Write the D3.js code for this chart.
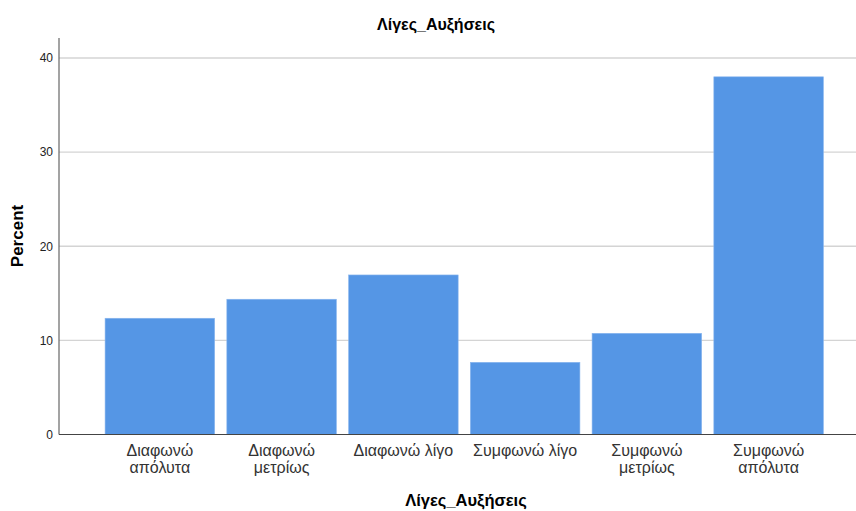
<!DOCTYPE html>
<html>
<head>
<meta charset="utf-8">
<script src="https://cdn.jsdelivr.net/npm/d3@7"></script>
<style>
  body { margin: 0; background: #fff; }
  svg text { font-family: "Liberation Sans", Arial, sans-serif; }
</style>
</head>
<body>
<div id="chart"></div>
<script>
// data
const categories = [
  ["Διαφωνώ", "απόλυτα"],
  ["Διαφωνώ", "μετρίως"],
  ["Διαφωνώ λίγο"],
  ["Συμφωνώ λίγο"],
  ["Συμφωνώ", "μετρίως"],
  ["Συμφωνώ", "απόλυτα"]
];
const percents = [12.35, 14.37, 16.95, 7.67, 10.75, 38.0];
const yTicks = [0, 10, 20, 30, 40];

const width = 856, height = 511;
const axisLeft = 59, axisRight = 856, yTop = 38, yBottom = 434.5;

const svg = d3.select("#chart").append("svg")
    .attr("width", width)
    .attr("height", height);

const keys = categories.map(function(d) { return d.join(" "); });

const x = d3.scaleBand()
    .domain(keys)
    .range([99, 829.5])
    .paddingInner(0.1)
    .paddingOuter(0.05);

const y = d3.scaleLinear()
    .domain([0, 40])
    .range([yBottom, 58]);

// grid lines
svg.append("g")
    .selectAll("line")
    .data(yTicks.filter(function(d) { return d > 0; }))
    .enter()
    .append("line")
    .attr("x1", axisLeft)
    .attr("x2", axisRight)
    .attr("y1", function(d) { return y(d); })
    .attr("y2", function(d) { return y(d); })
    .attr("stroke", "#d4d4d4")
    .attr("stroke-width", 1.3);

// bars
svg.append("g")
    .selectAll("rect")
    .data(percents)
    .enter()
    .append("rect")
    .attr("x", function(d, i) { return x(keys[i]); })
    .attr("y", function(d) { return y(d); })
    .attr("width", x.bandwidth())
    .attr("height", function(d) { return y(0) - y(d); })
    .attr("fill", "#5596e5")
    .attr("stroke", "#8ab6ee")
    .attr("stroke-width", 0.6);

// y axis
const yAxis = svg.append("g")
    .attr("transform", `translate(${axisLeft},0)`)
    .call(d3.axisLeft(y).tickValues(yTicks).tickSize(0).tickPadding(6));
yAxis.select(".domain").remove();
yAxis.selectAll("text")
    .style("font-size", "12px")
    .attr("fill", "#222");

svg.append("line")
    .attr("x1", axisLeft).attr("x2", axisLeft)
    .attr("y1", yTop).attr("y2", yBottom)
    .attr("stroke", "#666").attr("stroke-width", 1.2);

svg.append("line")
    .attr("x1", axisLeft).attr("x2", axisRight)
    .attr("y1", yBottom).attr("y2", yBottom)
    .attr("stroke", "#444").attr("stroke-width", 1.2);

// x category labels
const xLabels = svg.append("g")
    .selectAll("text")
    .data(categories)
    .enter()
    .append("text")
    .attr("x", function(d, i) { return x(keys[i]) + x.bandwidth() / 2; })
    .attr("y", 456)
    .style("text-anchor", "middle")
    .style("font-size", "16px")
    .attr("fill", "#333");

xLabels.selectAll("tspan")
    .data(function(d) { return d; })
    .enter()
    .append("tspan")
    .attr("x", function() { return d3.select(this.parentNode).attr("x"); })
    .attr("dy", function(d, i) { return i === 0 ? 0 : 16.5; })
    .text(function(d) { return d; });

// chart title
svg.append("text")
    .attr("x", 436)
    .attr("y", 30)
    .style("text-anchor", "middle")
    .style("font-size", "16px")
    .style("font-weight", "bold")
    .text("Λίγες_Αυξήσεις");

// x-axis title
svg.append("text")
    .attr("x", 466)
    .attr("y", 506)
    .style("text-anchor", "middle")
    .style("font-size", "16.5px")
    .style("font-weight", "bold")
    .text("Λίγες_Αυξήσεις");

// y-axis title
svg.append("text")
    .attr("transform", `translate(23, 236) rotate(-90)`)
    .style("text-anchor", "middle")
    .style("font-size", "17px")
    .style("font-weight", "bold")
    .text("Percent");
</script>
</body>
</html>
